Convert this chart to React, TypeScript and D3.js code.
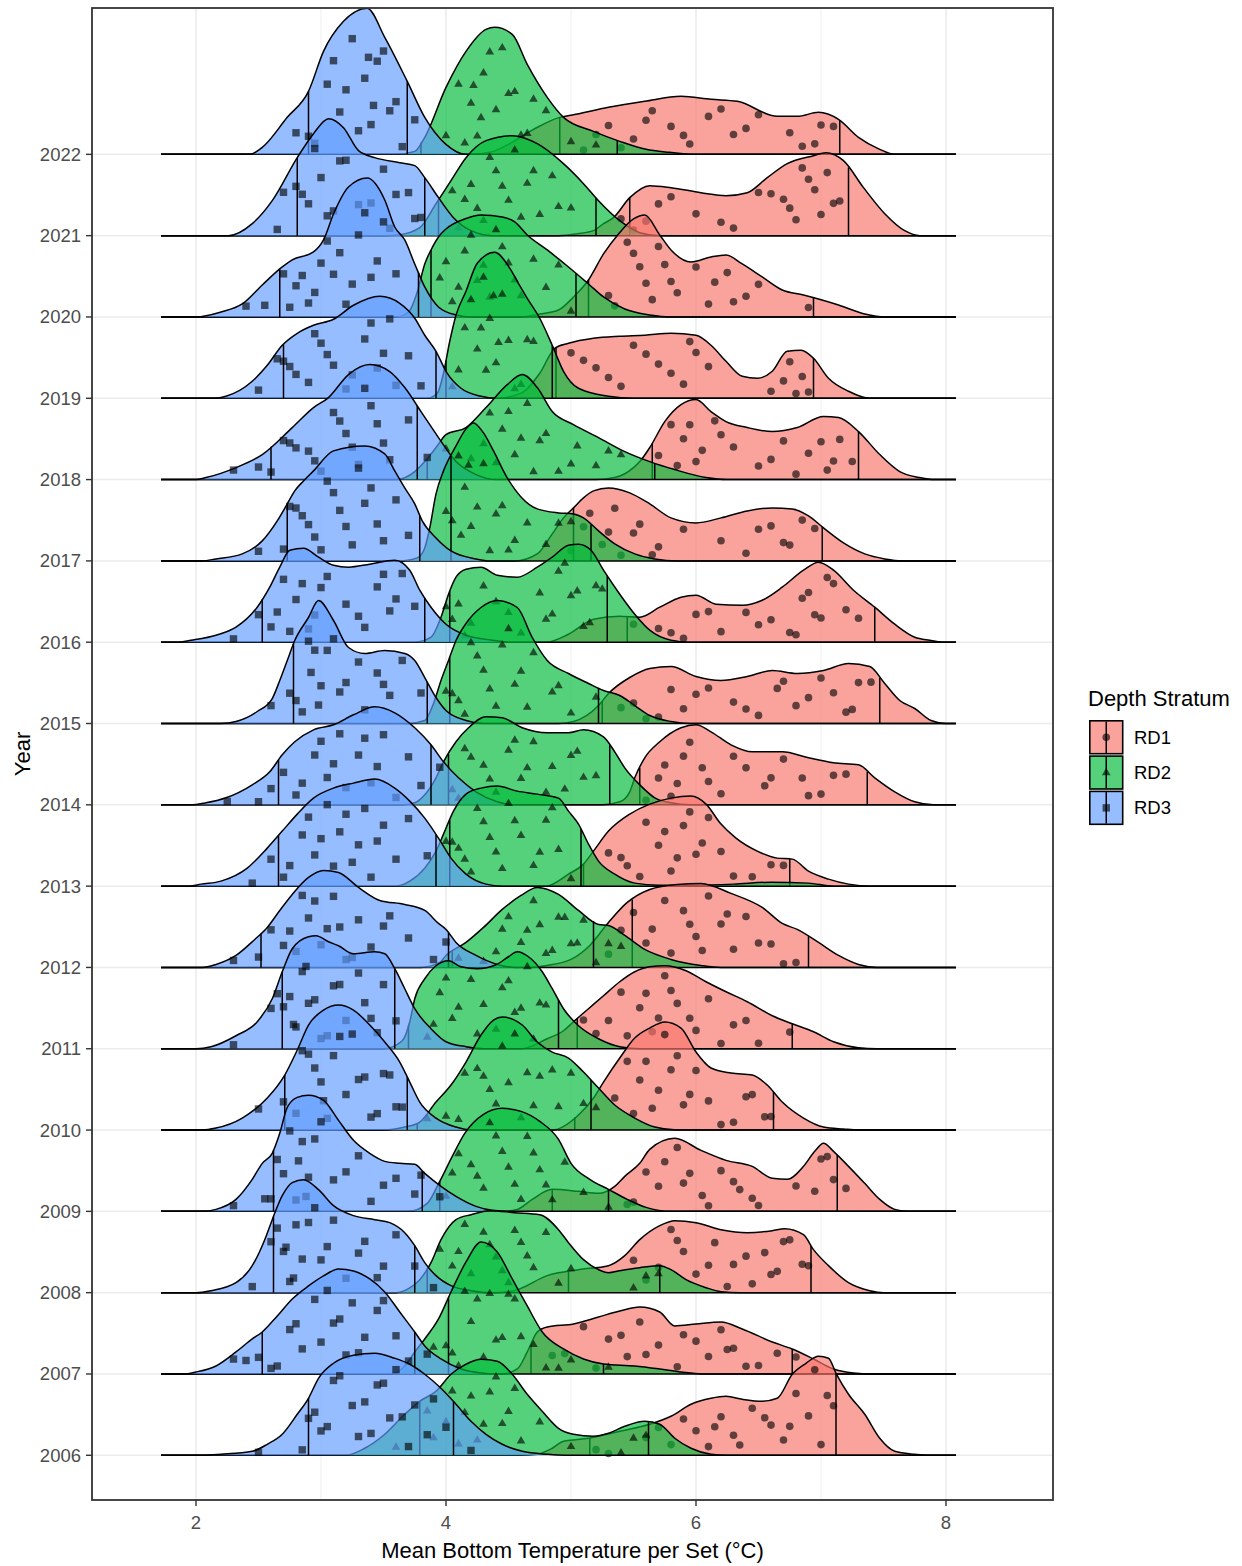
import React from "react";
import * as d3 from "d3";

type P = [number, number];

// ---------- data ----------
const years = [2006, 2007, 2008, 2009, 2010, 2011, 2012, 2013, 2014, 2015, 2016, 2017, 2018, 2019, 2020, 2021, 2022];
const strata = ["RD1", "RD2", "RD3"];
const strataColors = ["#F8766D", "#00BA38", "#619CFF"];
const xTicks = [2, 4, 6, 8];
const xMinorTicks = [3, 5, 7];

// scaled density heights (x = temperature, y = ridge height x100), 2006 -> 2022
const densityRD1: P[][] = [
  [[4.6,0],[4.73,1],[4.85,7],[4.94,14],[5.14,17],[5.39,24],[5.63,31],[5.8,39],[5.96,51],[6.12,57],[6.24,59],[6.37,56],[6.53,54],[6.65,57],[6.77,81],[6.88,92],[6.98,99],[7.06,97],[7.12,82],[7.22,61],[7.35,41],[7.47,17],[7.59,4],[7.75,1],[7.85,0]],
  [[4.45,0],[4.57,5],[4.65,22],[4.73,42],[4.81,47],[5.02,50],[5.22,57],[5.39,63],[5.55,67],[5.71,62],[5.83,48],[6.0,50],[6.2,52],[6.37,45],[6.61,32],[6.77,25],[6.94,15],[7.1,5],[7.26,1],[7.4,0]],
  [[4.4,0],[4.57,3],[4.81,17],[5.06,23],[5.3,27],[5.43,37],[5.55,53],[5.71,67],[5.83,72],[6.0,70],[6.2,63],[6.41,60],[6.61,62],[6.71,64],[6.86,58],[6.94,43],[7.06,27],[7.22,10],[7.39,2],[7.5,0]],
  [[4.45,0],[4.57,2],[4.69,12],[4.85,22],[5.06,20],[5.22,18],[5.35,25],[5.43,35],[5.55,48],[5.63,62],[5.83,73],[6.04,61],[6.24,51],[6.45,45],[6.61,33],[6.73,32],[6.86,45],[6.95,60],[7.02,68],[7.1,60],[7.22,45],[7.35,28],[7.47,12],[7.59,2],[7.7,0]],
  [[4.85,0],[5.06,15],[5.18,32],[5.26,48],[5.39,72],[5.51,92],[5.63,102],[5.75,108],[5.88,102],[6.0,78],[6.12,62],[6.28,57],[6.45,55],[6.57,45],[6.69,28],[6.86,12],[7.02,3],[7.18,1],[7.3,0]],
  [[4.6,0],[4.81,10],[4.94,18],[5.02,27],[5.14,40],[5.26,53],[5.39,67],[5.51,77],[5.63,82],[5.75,83],[5.92,78],[6.08,67],[6.24,57],[6.41,47],[6.61,33],[6.77,25],[6.94,17],[7.1,7],[7.3,1],[7.45,0]],
  [[4.65,0],[4.81,2],[5.0,8],[5.15,22],[5.3,45],[5.45,65],[5.63,78],[5.85,83],[6.04,84],[6.28,74],[6.53,60],[6.69,44],[6.81,38],[6.98,25],[7.14,12],[7.3,3],[7.45,0]],
  [[4.8,0],[4.98,12],[5.1,22],[5.18,35],[5.3,55],[5.47,72],[5.63,82],[5.8,88],[5.96,90],[6.08,82],[6.2,62],[6.32,48],[6.49,35],[6.65,28],[6.77,27],[6.9,15],[7.06,7],[7.22,2],[7.4,0]],
  [[5.25,0],[5.39,3],[5.47,13],[5.51,27],[5.59,47],[5.71,63],[5.88,77],[6.0,80],[6.12,73],[6.28,60],[6.45,53],[6.69,53],[6.9,47],[7.1,42],[7.3,40],[7.43,27],[7.59,13],[7.75,3],[7.9,0]],
  [[4.9,0],[5.02,2],[5.22,18],[5.3,30],[5.47,46],[5.63,55],[5.8,57],[6.0,47],[6.2,43],[6.41,47],[6.61,53],[6.81,50],[7.02,53],[7.22,60],[7.39,57],[7.51,40],[7.63,23],[7.75,15],[7.88,3],[8.0,0]],
  [[4.8,0],[4.98,8],[5.18,23],[5.39,26],[5.55,25],[5.71,35],[5.88,45],[6.0,47],[6.16,38],[6.37,37],[6.53,42],[6.69,55],[6.86,72],[6.98,80],[7.1,72],[7.26,52],[7.43,35],[7.59,18],[7.75,5],[7.87,2],[8.0,0]],
  [[4.55,0],[4.73,7],[4.85,27],[4.94,43],[5.02,53],[5.1,63],[5.18,70],[5.3,73],[5.47,68],[5.63,57],[5.8,43],[6.0,38],[6.2,43],[6.41,50],[6.61,53],[6.77,52],[6.9,45],[7.02,33],[7.18,18],[7.35,7],[7.51,2],[7.65,0]],
  [[5.2,0],[5.35,2],[5.5,12],[5.55,18],[5.63,32],[5.75,58],[5.88,75],[6.0,80],[6.12,68],[6.24,58],[6.41,52],[6.61,48],[6.81,52],[7.02,63],[7.14,62],[7.3,48],[7.47,25],[7.63,8],[7.79,2],[7.9,0]],
  [[4.4,0],[4.6,5],[4.75,25],[4.87,50],[4.98,55],[5.18,60],[5.39,62],[5.59,63],[5.8,65],[6.0,63],[6.12,53],[6.24,37],[6.37,22],[6.49,20],[6.61,27],[6.73,47],[6.84,48],[6.94,40],[7.06,20],[7.22,7],[7.39,0]],
  [[4.6,0],[4.75,3],[4.9,7],[5.02,20],[5.14,37],[5.26,63],[5.38,83],[5.5,98],[5.59,102],[5.71,82],[5.8,67],[5.96,55],[6.12,60],[6.24,62],[6.37,53],[6.53,40],[6.69,27],[6.86,22],[6.98,18],[7.14,12],[7.35,3],[7.51,0]],
  [[4.9,0],[5.05,2],[5.18,5],[5.26,12],[5.34,18],[5.47,38],[5.63,50],[5.8,48],[6.04,43],[6.24,40],[6.41,43],[6.57,58],[6.73,72],[6.94,80],[7.04,83],[7.18,75],[7.34,48],[7.51,22],[7.67,5],[7.79,0]],
  [[4.2,0],[4.35,2],[4.5,10],[4.7,25],[4.91,37],[5.0,39],[5.3,47],[5.59,53],[5.88,58],[6.12,55],[6.33,53],[6.65,38],[6.81,38],[6.98,42],[7.14,35],[7.3,17],[7.47,5],[7.59,0]],
];

const densityRD2: P[][] = [
  [[3.2,0],[3.35,7],[3.51,21],[3.67,41],[3.79,54],[3.92,64],[4.04,81],[4.16,91],[4.28,96],[4.41,94],[4.53,81],[4.65,61],[4.77,44],[4.9,27],[5.02,21],[5.18,19],[5.3,22],[5.43,29],[5.59,34],[5.71,31],[5.83,17],[5.96,7],[6.12,1],[6.25,0]],
  [[3.55,0],[3.67,8],[3.75,22],[3.83,35],[3.94,55],[4.04,82],[4.16,112],[4.28,132],[4.41,122],[4.53,95],[4.65,68],[4.77,42],[4.94,25],[5.1,15],[5.26,10],[5.51,8],[5.71,5],[5.88,2],[6.05,0]],
  [[3.6,0],[3.7,4],[3.79,13],[3.88,30],[3.96,53],[4.08,73],[4.2,78],[4.35,82],[4.55,80],[4.75,78],[4.9,63],[4.98,50],[5.1,33],[5.22,23],[5.3,20],[5.39,22],[5.55,25],[5.71,27],[5.8,23],[5.92,13],[6.08,5],[6.2,1],[6.35,0]],
  [[3.7,0],[3.85,8],[3.95,30],[4.05,55],[4.15,78],[4.3,97],[4.45,103],[4.6,100],[4.75,90],[4.9,72],[5.0,48],[5.15,32],[5.3,22],[5.45,12],[5.6,4],[5.8,0]],
  [[3.5,0],[3.67,3],[3.79,8],[3.92,28],[4.04,45],[4.16,68],[4.28,95],[4.38,110],[4.45,113],[4.61,105],[4.73,88],[4.85,78],[4.98,72],[5.1,58],[5.22,42],[5.35,25],[5.51,12],[5.67,3],[5.85,0]],
  [[3.5,0],[3.65,8],[3.71,27],[3.75,50],[3.83,70],[3.92,83],[4.02,88],[4.12,82],[4.25,80],[4.4,84],[4.5,92],[4.57,97],[4.66,92],[4.77,77],[4.85,60],[4.94,40],[5.06,23],[5.22,10],[5.39,2],[5.55,0]],
  [[3.8,0],[3.95,5],[4.0,12],[4.16,25],[4.3,40],[4.45,58],[4.6,72],[4.73,80],[4.9,73],[5.06,57],[5.22,43],[5.3,42],[5.43,32],[5.59,18],[5.8,8],[6.04,2],[6.2,0]],
  [[3.6,0],[3.71,5],[3.83,18],[3.92,35],[3.98,52],[4.06,75],[4.16,92],[4.28,98],[4.41,100],[4.57,95],[4.73,92],[4.9,88],[4.98,75],[5.06,62],[5.14,42],[5.22,25],[5.35,12],[5.51,3],[5.7,1],[6.0,1],[6.3,2],[6.6,4],[6.9,3],[7.1,0]],
  [[3.65,0],[3.75,2],[3.83,10],[3.92,27],[3.98,43],[4.08,63],[4.18,77],[4.32,88],[4.45,87],[4.61,77],[4.81,72],[4.98,72],[5.1,75],[5.26,68],[5.35,53],[5.43,37],[5.55,20],[5.67,7],[5.8,2],[5.95,0]],
  [[3.7,0],[3.83,3],[3.9,20],[3.96,43],[4.02,63],[4.08,83],[4.16,100],[4.28,116],[4.41,123],[4.57,116],[4.69,86],[4.81,63],[4.98,50],[5.14,40],[5.26,33],[5.39,28],[5.51,18],[5.63,8],[5.8,2],[5.95,0]],
  [[3.75,0],[3.88,5],[3.96,25],[4.02,48],[4.08,65],[4.16,73],[4.28,75],[4.41,67],[4.57,65],[4.73,75],[4.85,85],[4.98,97],[5.06,98],[5.16,92],[5.26,72],[5.39,48],[5.51,28],[5.63,12],[5.8,2],[5.95,0]],
  [[3.65,0],[3.77,3],[3.83,13],[3.87,33],[3.92,67],[3.98,90],[4.08,115],[4.16,132],[4.22,138],[4.3,128],[4.38,110],[4.49,83],[4.6,64],[4.73,52],[4.9,48],[5.02,47],[5.1,43],[5.22,30],[5.35,17],[5.51,7],[5.67,2],[5.85,0]],
  [[3.6,0],[3.75,8],[3.83,18],[3.92,32],[4.0,45],[4.16,52],[4.32,72],[4.49,95],[4.61,105],[4.73,92],[4.85,68],[5.02,55],[5.22,42],[5.43,28],[5.63,18],[5.83,10],[6.08,2],[6.25,0]],
  [[3.85,0],[3.93,5],[3.98,25],[4.03,57],[4.08,83],[4.16,107],[4.25,135],[4.39,146],[4.5,132],[4.57,117],[4.65,100],[4.75,80],[4.85,53],[4.94,27],[5.06,10],[5.3,2],[5.5,0]],
  [[3.6,0],[3.7,5],[3.77,25],[3.83,53],[3.88,67],[3.94,80],[4.0,88],[4.15,98],[4.28,102],[4.45,100],[4.55,95],[4.65,82],[4.81,67],[4.98,50],[5.14,33],[5.26,20],[5.43,8],[5.63,2],[5.8,0]],
  [[3.5,0],[3.63,1],[3.79,8],[3.92,32],[4.04,55],[4.16,78],[4.32,95],[4.53,100],[4.73,92],[4.94,72],[5.1,52],[5.22,35],[5.39,15],[5.55,3],[5.71,0]],
  [[3.6,0],[3.75,3],[3.83,17],[4.0,67],[4.16,103],[4.32,125],[4.39,127],[4.53,120],[4.65,90],[4.81,57],[4.94,37],[5.18,23],[5.39,13],[5.6,5],[5.79,2],[6.0,0]],
];

const densityRD3: P[][] = [
  [[2.05,0],[2.2,1],[2.45,4],[2.57,11],[2.69,21],[2.81,41],[2.9,57],[2.98,77],[3.1,92],[3.26,100],[3.43,102],[3.59,97],[3.71,91],[3.83,81],[3.96,67],[4.08,51],[4.2,34],[4.32,21],[4.45,11],[4.61,4],[4.81,1],[4.95,0]],
  [[1.9,0],[2.0,2],[2.16,8],[2.32,22],[2.45,35],[2.53,42],[2.65,58],[2.77,75],[2.9,88],[3.02,98],[3.14,105],[3.26,103],[3.39,95],[3.51,82],[3.63,62],[3.75,42],[3.83,28],[3.96,15],[4.12,5],[4.28,1],[4.4,0]],
  [[2.0,0],[2.12,2],[2.32,10],[2.45,27],[2.55,53],[2.61,73],[2.69,97],[2.77,110],[2.86,113],[2.98,103],[3.1,87],[3.26,77],[3.43,73],[3.55,70],[3.67,60],[3.75,47],[3.83,30],[3.92,17],[4.04,7],[4.2,2],[4.35,0]],
  [[2.05,0],[2.16,2],[2.32,12],[2.45,32],[2.53,48],[2.61,58],[2.67,78],[2.73,104],[2.81,114],[2.9,116],[3.02,111],[3.14,91],[3.26,71],[3.39,58],[3.51,50],[3.63,48],[3.75,47],[3.83,38],[3.96,25],[4.08,15],[4.24,5],[4.37,1],[4.5,0]],
  [[2.05,0],[2.16,2],[2.37,12],[2.57,32],[2.71,55],[2.81,80],[2.9,105],[3.02,120],[3.14,125],[3.26,120],[3.39,105],[3.51,88],[3.63,68],[3.71,48],[3.79,28],[3.92,12],[4.08,3],[4.2,0]],
  [[2.0,0],[2.12,2],[2.32,13],[2.49,27],[2.61,50],[2.69,77],[2.77,100],[2.9,112],[2.96,113],[3.06,107],[3.14,103],[3.26,95],[3.43,97],[3.51,95],[3.59,80],[3.67,60],[3.75,40],[3.88,20],[4.0,7],[4.16,2],[4.3,0]],
  [[2.05,0],[2.16,3],[2.32,12],[2.47,28],[2.57,40],[2.67,57],[2.77,73],[2.9,90],[3.02,97],[3.14,95],[3.3,80],[3.47,67],[3.67,63],[3.83,57],[3.94,44],[4.0,38],[4.08,25],[4.24,12],[4.41,3],[4.55,0]],
  [[1.95,0],[2.04,2],[2.2,5],[2.41,18],[2.57,38],[2.69,55],[2.81,72],[2.94,88],[3.1,98],[3.26,103],[3.43,107],[3.59,98],[3.71,85],[3.83,68],[3.94,48],[4.04,28],[4.16,12],[4.32,2],[4.45,0]],
  [[1.95,0],[2.08,2],[2.24,7],[2.45,20],[2.59,33],[2.69,50],[2.79,63],[2.94,75],[3.1,80],[3.26,90],[3.43,98],[3.59,92],[3.75,77],[3.88,60],[3.98,43],[4.1,27],[4.24,13],[4.41,3],[4.55,0]],
  [[2.2,0],[2.32,2],[2.49,12],[2.61,25],[2.67,43],[2.73,63],[2.79,83],[2.9,106],[2.98,123],[3.1,103],[3.22,76],[3.35,70],[3.51,73],[3.67,70],[3.75,63],[3.83,46],[3.92,26],[4.0,13],[4.16,3],[4.3,0]],
  [[1.85,0],[1.96,2],[2.16,7],[2.32,15],[2.49,35],[2.59,55],[2.67,75],[2.75,92],[2.86,94],[2.98,85],[3.1,77],[3.22,75],[3.39,78],[3.59,82],[3.71,72],[3.79,52],[3.88,35],[4.0,18],[4.16,7],[4.37,2],[4.5,0]],
  [[2.05,0],[2.16,2],[2.37,7],[2.53,20],[2.65,40],[2.73,57],[2.79,70],[2.86,80],[2.94,90],[3.1,110],[3.35,115],[3.51,107],[3.59,90],[3.67,73],[3.75,57],[3.81,40],[3.92,23],[4.04,10],[4.24,2],[4.35,0]],
  [[2.0,0],[2.08,2],[2.32,12],[2.53,25],[2.77,52],[2.94,72],[3.06,82],[3.22,105],[3.39,115],[3.55,108],[3.67,92],[3.8,68],[3.94,42],[4.08,18],[4.24,5],[4.4,0]],
  [[2.15,0],[2.24,2],[2.45,17],[2.57,33],[2.69,53],[2.81,65],[2.94,73],[3.1,79],[3.26,93],[3.47,102],[3.63,95],[3.75,80],[3.83,63],[3.92,47],[4.0,27],[4.12,10],[4.28,2],[4.4,0]],
  [[2.0,0],[2.2,5],[2.37,13],[2.53,32],[2.69,50],[2.77,57],[2.94,65],[3.02,77],[3.1,103],[3.22,130],[3.37,139],[3.51,117],[3.59,90],[3.67,77],[3.75,53],[3.83,30],[3.94,10],[4.08,2],[4.2,0]],
  [[2.26,0],[2.45,12],[2.61,35],[2.81,78],[2.94,102],[3.06,117],[3.18,108],[3.3,85],[3.43,78],[3.63,73],[3.75,70],[3.83,58],[3.94,38],[4.06,18],[4.2,5],[4.37,0]],
  [[2.43,0],[2.53,7],[2.73,37],[2.9,63],[3.02,103],[3.18,133],[3.37,146],[3.51,117],[3.69,73],[3.83,37],[4.0,10],[4.16,0]],
];

// quantile lines [lower, upper], 2006 -> 2022
const quantRD1: P[] = [[5.15,7.12],[4.68,6.77],[4.98,6.92],[4.85,7.13],[5.03,6.62],[5.05,6.77],[5.49,6.9],[5.1,6.75],[5.55,7.37],[5.25,7.47],[5.45,7.43],[5.02,7.01],[5.65,7.3],[4.88,6.94],[5.14,6.94],[5.47,7.22],[4.91,7.15]];
const quantRD2: P[] = [[3.79,5.62],[4.02,5.26],[3.85,5.71],[3.95,5.3],[3.77,5.16],[3.7,4.9],[4.05,5.18],[4.03,5.08],[4.02,5.31],[4.03,5.22],[4.03,5.29],[4.04,5.16],[3.85,5.67],[4.0,4.85],[3.88,5.04],[3.94,5.2],[3.8,5.37]];
const quantRD3: P[] = [[2.9,4.06],[2.53,3.75],[2.62,3.75],[2.62,3.81],[2.71,3.69],[2.69,3.59],[2.52,4.02],[2.66,3.92],[2.66,3.88],[2.78,3.85],[2.53,3.83],[2.73,3.79],[2.6,3.77],[2.7,3.92],[2.67,3.78],[2.81,3.83],[2.9,3.69]];

// observed mean bottom temperature per set, 2006 -> 2022
const pointsRD1: number[][] = [
  [5.3,5.6,5.8,5.9,6.0,6.1,6.2,6.3,6.45,6.6,6.7,6.8,6.9,7.0,7.05,5.2,5.7,6.15,6.35,6.55,6.75,6.95,7.1],
  [4.85,5.1,5.3,5.45,5.55,5.7,5.85,6.0,6.1,6.2,6.3,6.5,6.8,4.95,5.2,5.4,5.6,5.9,6.25,6.4,6.65],
  [5.5,5.7,5.8,5.9,6.0,6.15,6.3,6.45,6.55,6.65,6.75,6.9,5.6,5.85,6.1,6.25,6.4,6.6,6.7,6.85],
  [5.45,5.6,5.7,5.85,5.95,6.05,6.2,6.35,6.5,6.8,6.95,7.05,7.1,5.5,5.75,5.9,6.1,6.3,6.45,7.0,7.2],
  [5.35,5.5,5.6,5.7,5.75,5.8,5.9,6.0,6.1,6.3,6.45,6.6,5.45,5.55,5.65,5.85,5.95,6.2,6.4,6.55],
  [5.1,5.3,5.45,5.6,5.7,5.75,5.85,6.0,6.1,6.3,6.5,6.75,5.2,5.4,5.55,5.65,5.8,5.95,6.2,6.4],
  [5.3,5.5,5.65,5.8,5.9,6.0,6.1,6.2,6.3,6.4,6.6,6.8,5.4,5.6,5.75,5.95,6.05,6.25,6.5,6.7],
  [5.3,5.45,5.6,5.7,5.8,5.9,6.0,6.1,6.2,6.45,6.7,5.4,5.55,5.75,5.85,5.95,6.05,6.3,6.6],
  [5.6,5.75,5.85,5.95,6.05,6.2,6.4,6.55,6.7,6.85,7.0,7.2,5.7,5.8,5.9,6.1,6.3,6.6,6.9,7.1],
  [5.4,5.6,5.8,5.9,6.1,6.3,6.5,6.65,6.8,7.0,7.1,7.25,7.4,5.5,5.7,6.0,6.4,6.7,6.9,7.2,7.3],
  [5.5,5.7,5.9,6.0,6.2,6.4,6.6,6.75,6.9,6.95,7.05,7.2,5.8,6.1,6.5,6.8,6.85,7.0,7.1,7.3],
  [5.0,5.15,5.3,5.4,5.55,5.7,5.9,6.2,6.4,6.6,6.7,6.85,5.1,5.25,5.35,5.5,5.65,6.5,6.75,6.95],
  [5.7,5.85,5.95,6.05,6.15,6.3,6.5,6.7,6.9,7.05,7.15,7.25,5.8,5.9,6.0,6.2,6.6,6.8,7.0,7.1],
  [5.0,5.2,5.4,5.6,5.8,5.95,6.1,6.6,6.75,6.85,6.9,5.1,5.3,5.5,5.7,5.9,6.0,6.7,6.8],
  [5.3,5.45,5.55,5.65,5.75,5.85,6.0,6.15,6.3,6.5,6.9,5.35,5.5,5.6,5.7,5.8,6.1,6.25,6.4],
  [5.4,5.6,5.8,6.0,6.3,6.6,6.75,6.85,6.95,7.0,7.05,7.15,5.5,5.7,6.2,6.5,6.7,6.8,6.9,7.1],
  [5.1,5.3,5.5,5.65,5.8,5.95,6.1,6.3,6.5,6.75,6.95,7.1,5.2,5.4,5.6,5.9,6.2,6.4,6.85,7.0],
];
const pointsRD2: number[][] = [
  [3.6,3.85,4.0,4.1,4.2,4.3,4.4,4.5,4.6,4.75,5.0,5.4,5.6,3.9,4.05,4.15,4.25,4.35,4.45,4.55,5.5],
  [3.9,4.05,4.15,4.2,4.3,4.35,4.45,4.55,4.7,4.9,5.3,4.0,4.1,4.25,4.4,4.5,4.6,4.8,5.0],
  [3.95,4.1,4.2,4.3,4.4,4.5,4.6,4.7,4.8,5.0,5.5,5.7,4.05,4.15,4.35,4.45,4.55,4.65,4.9,5.6],
  [4.0,4.1,4.2,4.3,4.4,4.5,4.6,4.7,4.8,4.95,5.1,5.3,4.05,4.25,4.35,4.45,4.55,4.65,4.75,4.85],
  [3.85,4.0,4.15,4.3,4.4,4.45,4.5,4.6,4.75,4.9,5.0,5.2,4.1,4.25,4.35,4.55,4.65,4.7,4.85,5.1],
  [3.85,3.95,4.05,4.2,4.3,4.4,4.5,4.6,4.7,4.8,3.9,4.0,4.1,4.25,4.45,4.55,4.65,4.75],
  [4.1,4.3,4.45,4.6,4.7,4.75,4.85,4.95,5.05,5.2,5.4,4.4,4.5,4.65,4.8,4.9,5.0,5.1,5.3],
  [4.0,4.1,4.2,4.3,4.4,4.5,4.6,4.7,4.8,4.9,5.0,4.05,4.15,4.25,4.35,4.45,4.55,4.75,4.85],
  [4.05,4.15,4.3,4.4,4.5,4.6,4.7,4.85,4.95,5.05,5.2,4.1,4.2,4.35,4.55,4.65,4.8,5.0,5.1],
  [4.0,4.1,4.2,4.3,4.4,4.45,4.55,4.7,4.85,5.0,5.2,4.05,4.15,4.25,4.35,4.5,4.6,4.65,4.9],
  [4.0,4.1,4.2,4.3,4.5,4.6,4.75,4.85,4.95,5.05,5.15,5.25,4.05,4.15,4.4,4.8,4.9,5.0,5.1,5.2],
  [4.05,4.1,4.15,4.2,4.3,4.4,4.5,4.65,4.8,5.0,4.0,4.12,4.18,4.25,4.35,4.45,4.55,4.9],
  [4.0,4.2,4.35,4.45,4.55,4.65,4.75,4.9,5.05,5.2,5.4,4.3,4.4,4.5,4.6,4.7,4.8,5.0,5.3],
  [4.05,4.15,4.25,4.3,4.35,4.4,4.45,4.5,4.6,4.7,4.1,4.2,4.28,4.32,4.38,4.42,4.55,4.65],
  [3.95,4.05,4.15,4.25,4.4,4.5,4.6,4.7,4.8,5.0,4.0,4.1,4.2,4.3,4.35,4.45,4.55,4.9],
  [4.05,4.15,4.3,4.4,4.5,4.55,4.65,4.75,4.85,5.0,4.1,4.2,4.25,4.35,4.45,4.6,4.7,4.9],
  [4.0,4.1,4.2,4.25,4.3,4.4,4.45,4.55,4.65,4.8,5.2,4.15,4.22,4.28,4.35,4.5,4.6,4.7,5.0],
];
const pointsRD3: number[][] = [
  [2.5,2.85,2.95,3.0,3.1,3.25,3.3,3.45,3.55,3.6,3.75,3.85,3.9,4.0,4.2,2.9,3.05,3.15,3.35,3.4,3.5,3.65,3.7],
  [2.3,2.5,2.6,2.75,2.85,2.95,3.1,3.2,3.25,3.35,3.5,3.6,3.7,3.85,2.4,2.65,2.8,3.0,3.05,3.15,3.3,3.45],
  [2.45,2.6,2.7,2.75,2.8,2.85,2.95,3.05,3.2,3.35,3.5,3.6,3.75,3.9,2.65,2.72,2.78,2.9,3.0,3.1,3.3,3.45],
  [2.3,2.6,2.65,2.7,2.8,2.85,2.9,3.0,3.2,3.4,3.6,3.75,3.8,3.95,2.55,2.75,2.82,2.88,2.95,3.1,3.3,3.5],
  [2.5,2.7,2.8,2.9,3.0,3.05,3.1,3.2,3.25,3.35,3.45,3.55,3.65,2.85,2.95,3.02,3.15,3.3,3.4,3.5,3.6],
  [2.3,2.6,2.7,2.8,2.85,2.9,3.0,3.1,3.2,3.3,3.35,3.45,3.5,3.6,2.65,2.75,2.78,2.88,2.95,3.05,3.15,3.4],
  [2.3,2.5,2.6,2.75,2.8,2.95,3.05,3.2,3.3,3.4,3.55,3.7,3.9,4.0,2.7,2.85,2.9,3.0,3.1,3.15,3.25,3.5],
  [2.45,2.6,2.75,2.9,3.0,3.1,3.2,3.3,3.4,3.5,3.6,3.7,3.85,2.7,2.85,2.95,3.05,3.15,3.25,3.35,3.45],
  [2.25,2.5,2.7,2.85,3.0,3.1,3.2,3.35,3.45,3.6,3.7,3.8,3.95,2.6,2.8,2.95,3.05,3.15,3.3,3.4,3.5],
  [2.6,2.75,2.85,2.95,3.0,3.1,3.2,3.35,3.45,3.55,3.65,3.8,2.8,2.9,2.92,2.98,3.05,3.15,3.3,3.5],
  [2.3,2.5,2.65,2.75,2.85,2.95,3.05,3.2,3.35,3.45,3.55,3.65,3.75,2.6,2.7,2.8,2.9,3.0,3.3,3.5,3.6],
  [2.5,2.7,2.8,2.9,3.0,3.1,3.2,3.3,3.35,3.5,3.6,3.7,2.75,2.85,2.95,3.05,3.15,3.25,3.4,3.45],
  [2.3,2.5,2.6,2.75,2.9,3.0,3.15,3.25,3.35,3.45,3.55,3.7,3.85,2.7,2.8,2.95,3.1,3.2,3.3,3.4,3.5],
  [2.5,2.65,2.75,2.9,3.0,3.1,3.2,3.35,3.45,3.55,3.7,3.8,2.7,2.8,2.95,3.05,3.25,3.4,3.5,3.6],
  [2.4,2.55,2.7,2.8,2.9,3.0,3.1,3.2,3.3,3.4,3.5,3.6,2.75,2.85,2.95,3.05,3.15,3.25,3.35,3.45],
  [2.65,2.8,2.9,2.95,3.0,3.1,3.2,3.4,3.55,3.7,3.8,2.7,2.85,3.05,3.15,3.3,3.5,3.6,3.75],
  [2.8,2.95,3.05,3.15,3.25,3.35,3.4,3.45,3.55,3.65,3.75,2.9,3.1,3.2,3.3,3.38,3.42,3.5,3.6],
];

const densities = [densityRD1, densityRD2, densityRD3];
const quantiles = [quantRD1, quantRD2, quantRD3];
const pointSets = [pointsRD1, pointsRD2, pointsRD3];

// ---------- helpers ----------
function interp(arr: P[], v: number): number {
  if (v <= arr[0][0] || v >= arr[arr.length - 1][0]) return 0;
  for (let i = 1; i < arr.length; i++) {
    if (v <= arr[i][0]) {
      const [x0, y0] = arr[i - 1];
      const [x1, y1] = arr[i];
      return y0 + ((v - x0) / (x1 - x0)) * (y1 - y0);
    }
  }
  return 0;
}

function Marker({ s, cx, cy }: { s: number; cx: number; cy: number }) {
  const fill = "#000";
  const op = 0.62;
  if (s === 0) return <circle cx={cx} cy={cy} r={3.8} fill={fill} fillOpacity={op} />;
  if (s === 1) {
    const a = 4.8;
    return (
      <polygon
        points={`${cx},${cy - a} ${cx - a * 0.9},${cy + a * 0.55} ${cx + a * 0.9},${cy + a * 0.55}`}
        fill={fill}
        fillOpacity={op}
      />
    );
  }
  return <rect x={cx - 3.7} y={cy - 3.7} width={7.4} height={7.4} fill={fill} fillOpacity={op} />;
}

export default function App() {
  const W = 1242;
  const H = 1566;
  const pL = 92, pR = 1053, pT = 8, pB = 1500;
  const x = d3.scaleLinear().domain([1.168, 8.856]).range([pL, pR]);
  const y = d3.scaleLinear().domain([2005.45, 2023.8]).range([pB, pT]);
  const rowStep = y(2006) - y(2007);
  const hs = d3.scaleLinear().domain([0, 100]).range([0, (100 * rowStep) / 81.3]);
  const xFrom = 1.72;
  const xTo = 8.08;
  const fillOpacity = 0.67;
  const font = "'Liberation Sans', Arial, sans-serif";

  const ridges: JSX.Element[] = [];
  for (let yi = years.length - 1; yi >= 0; yi--) {
    const yr = years[yi];
    const base = y(yr);
    for (let si = 0; si < strata.length; si++) {
      const raw = densities[si][yi];
      const data: P[] = [[xFrom, 0], ...raw, [xTo, 0]];
      const area = d3
        .area<P>()
        .x((d) => x(d[0]))
        .y0(base)
        .y1((d) => base - hs(d[1]))
        .curve(d3.curveMonotoneX)(data) as string;
      const line = d3
        .line<P>()
        .x((d) => x(d[0]))
        .y((d) => base - hs(d[1]))
        .curve(d3.curveMonotoneX)(data) as string;
      const pts = pointSets[si][yi];
      const offset = (yi * 0.377 + si * 0.211) % 1;
      ridges.push(
        <g key={`${yr}-${si}`}>
          <path d={area} fill={strataColors[si]} fillOpacity={fillOpacity} stroke="none" />
          {pts.map((v, i) => {
            const dh = interp(raw, v);
            const frac = 0.08 + 0.82 * ((i * 0.618034 + offset) % 1);
            return <Marker key={i} s={si} cx={x(v)} cy={base - hs(dh * frac)} />;
          })}
          <path d={line} fill="none" stroke="#000" strokeWidth={1.5} />
          {quantiles[si][yi].map((q, i) => (
            <line
              key={`q${i}`}
              x1={x(q)}
              x2={x(q)}
              y1={base}
              y2={base - hs(interp(raw, q))}
              stroke="#000"
              strokeWidth={1.5}
            />
          ))}
        </g>
      );
    }
  }

  const legendX = 1089;
  const legendY0 = 720;
  const keySize = 34.5;

  return (
    <svg
      width={W}
      height={H}
      viewBox={`0 0 ${W} ${H}`}
      style={{ position: "absolute", left: 0, top: 0, display: "block", background: "#fff" }}
    >
      <rect x={0} y={0} width={W} height={H} fill="#fff" />
      {xMinorTicks.map((t) => (
        <line key={`mn${t}`} x1={x(t)} x2={x(t)} y1={pT} y2={pB} stroke="#EBEBEB" strokeWidth={0.8} />
      ))}
      {xTicks.map((t) => (
        <line key={`mj${t}`} x1={x(t)} x2={x(t)} y1={pT} y2={pB} stroke="#EBEBEB" strokeWidth={1.5} />
      ))}
      {years.map((yr) => (
        <line key={`hy${yr}`} x1={pL} x2={pR} y1={y(yr)} y2={y(yr)} stroke="#EBEBEB" strokeWidth={1.5} />
      ))}
      <defs>
        <clipPath id="panelClip">
          <rect x={pL} y={pT} width={pR - pL} height={pB - pT} />
        </clipPath>
      </defs>
      <g clipPath="url(#panelClip)">{ridges}</g>
      <rect x={pL} y={pT} width={pR - pL} height={pB - pT} fill="none" stroke="#333333" strokeWidth={1.8} />

      {years.map((yr) => (
        <g key={`yt${yr}`}>
          <line x1={pL - 6} x2={pL} y1={y(yr)} y2={y(yr)} stroke="#333333" strokeWidth={1.4} />
          <text
            x={pL - 11}
            y={y(yr)}
            textAnchor="end"
            dominantBaseline="central"
            fontFamily={font}
            fontSize={18.5}
            fill="#4D4D4D"
          >
            {yr}
          </text>
        </g>
      ))}
      {xTicks.map((t) => (
        <g key={`xt${t}`}>
          <line x1={x(t)} x2={x(t)} y1={pB} y2={pB + 6} stroke="#333333" strokeWidth={1.4} />
          <text x={x(t)} y={pB + 29} textAnchor="middle" fontFamily={font} fontSize={18.5} fill="#4D4D4D">
            {t}
          </text>
        </g>
      ))}
      <text x={(pL + pR) / 2} y={1558} textAnchor="middle" fontFamily={font} fontSize={22} fill="#000">
        Mean Bottom Temperature per Set (°C)
      </text>
      <text
        transform={`translate(30, ${(pT + pB) / 2}) rotate(-90)`}
        textAnchor="middle"
        fontFamily={font}
        fontSize={22}
        fill="#000"
      >
        Year
      </text>

      <text x={1088} y={706} fontFamily={font} fontSize={22} fill="#000">
        Depth Stratum
      </text>
      {strata.map((s, i) => {
        const ky = legendY0 + i * 35.3;
        const cx = legendX + keySize / 2;
        const cy = ky + keySize / 2;
        return (
          <g key={s}>
            <rect x={legendX} y={ky} width={keySize} height={keySize} fill="#fff" />
            <rect
              x={legendX + 0.8}
              y={ky + 0.8}
              width={keySize - 1.6}
              height={keySize - 1.6}
              fill={strataColors[i]}
              fillOpacity={fillOpacity}
              stroke="#000"
              strokeWidth={1.6}
            />
            <line x1={cx} x2={cx} y1={ky + 1.5} y2={ky + keySize - 1.5} stroke="#000" strokeWidth={1.5} />
            <Marker s={i} cx={cx} cy={cy} />
            <text x={1134} y={cy} dominantBaseline="central" fontFamily={font} fontSize={18.5} fill="#000">
              {s}
            </text>
          </g>
        );
      })}
    </svg>
  );
}
